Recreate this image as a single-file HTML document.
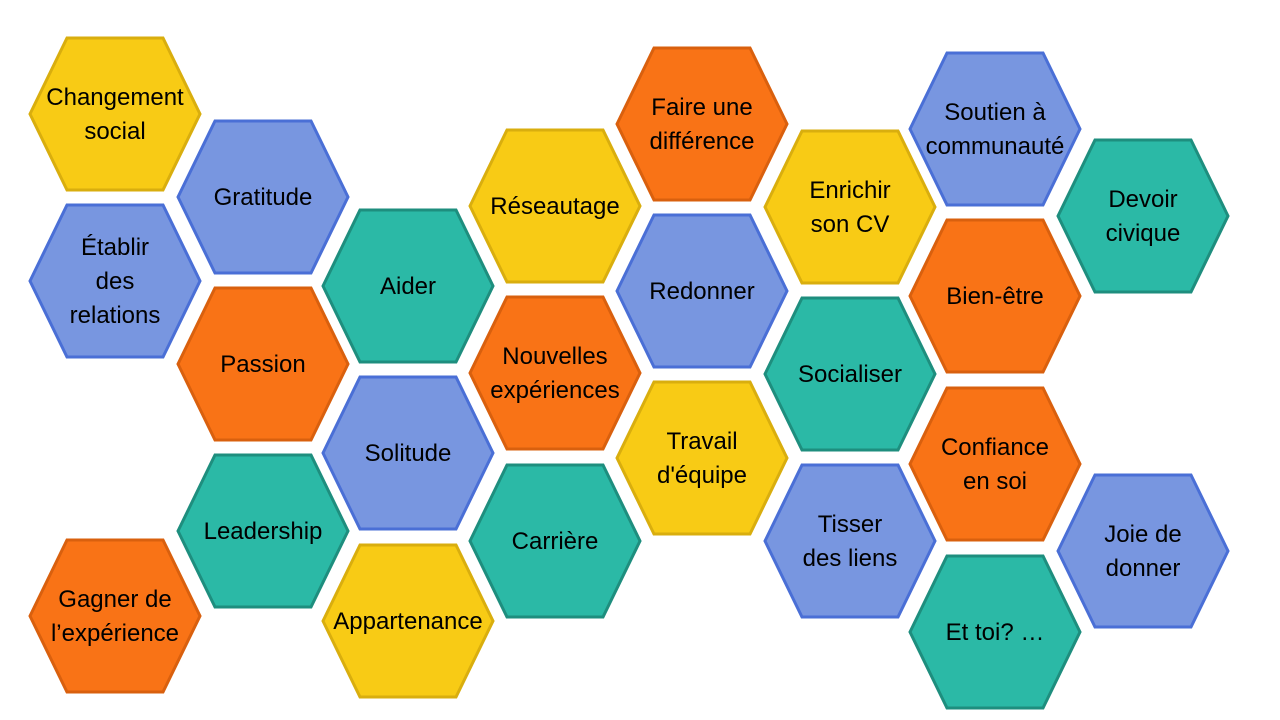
<!DOCTYPE html>
<html><head><meta charset="utf-8"><style>
body{margin:0;background:#fff}
svg{display:block}
text{font-family:"Liberation Sans",sans-serif;font-size:24px;fill:#000;text-anchor:middle}
.y{fill:#F8CB15;stroke:#D9AE0E}
.b{fill:#7896E0;stroke:#4A6FD6}
.o{fill:#F97316;stroke:#D9600E}
.t{fill:#2BB9A6;stroke:#1E8E7E}
polygon{stroke-width:3}
</style></head><body>
<svg width="1280" height="720" viewBox="0 0 1280 720" id="s"></svg>
<script>
const d=[
["y",30,38,["Changement","social"]],
["b",178,121,["Gratitude"]],
["b",30,205,["Établir","des","relations"]],
["t",323,210,["Aider"]],
["o",178,288,["Passion"]],
["b",323,377,["Solitude"]],
["t",178,455,["Leadership"]],
["o",30,540,["Gagner de","l’expérience"]],
["y",323,545,["Appartenance"]],
["y",470,130,["Réseautage"]],
["o",470,297,["Nouvelles","expériences"]],
["t",470,465,["Carrière"]],
["o",617,48,["Faire une","différence"]],
["b",617,215,["Redonner"]],
["y",617,382,["Travail","d'équipe"]],
["y",765,131,["Enrichir","son CV"]],
["t",765,298,["Socialiser"]],
["b",765,465,["Tisser","des liens"]],
["b",910,53,["Soutien à","communauté"]],
["o",910,220,["Bien-être"]],
["o",910,388,["Confiance","en soi"]],
["t",910,556,["Et toi? …"]],
["t",1058,140,["Devoir","civique"]],
["b",1058,475,["Joie de","donner"]]
];
let h="";
for(const [c,x,y,l] of d){
 const w=170,H=152,i=37;
 h+=`<polygon class="${c}" points="${x},${y+H/2} ${x+i},${y} ${x+w-i},${y} ${x+w},${y+H/2} ${x+w-i},${y+H} ${x+i},${y+H}"/>`;
 const cx=x+w/2,cy=y+H/2,lh=34,s=cy-(l.length-1)*lh/2+8;
 l.forEach((t,k)=>{h+=`<text x="${cx}" y="${s+k*lh}">${t}</text>`});
}
document.getElementById("s").innerHTML=h;
</script>
</body></html>
